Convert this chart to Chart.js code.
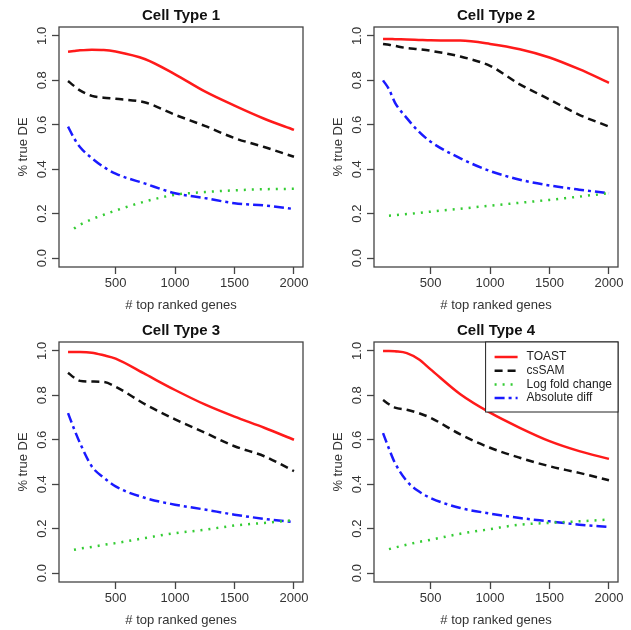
<!DOCTYPE html>
<html lang="en">
<head>
<meta charset="UTF-8">
<title>% true DE by cell type</title>
<script src="https://cdn.jsdelivr.net/npm/chart.js@4.4.1/dist/chart.umd.min.js"></script>
<style>
  body { margin: 0; background: #fff; }
  .panel { position: absolute; width: 315px; height: 315px; }
</style>
</head>
<body>
<div class="panel" style="left:0;top:0"><canvas id="c1" width="315" height="315"></canvas></div>
<div class="panel" style="left:315px;top:0"><canvas id="c2" width="315" height="315"></canvas></div>
<div class="panel" style="left:0;top:315px"><canvas id="c3" width="315" height="315"></canvas></div>
<div class="panel" style="left:315px;top:315px"><canvas id="c4" width="315" height="315"></canvas></div>

<script>
// x positions shared by every curve
var genes = [100, 150, 200, 300, 400, 500, 750, 1000, 1250, 1500, 1750, 2000];
var xTicks = [500, 1000, 1500, 2000];
var yTicks = [0, 0.2, 0.4, 0.6, 0.8, 1.0];
var panelTitles = ['Cell Type 1', 'Cell Type 2', 'Cell Type 3', 'Cell Type 4'];
var methods = ['TOAST', 'csSAM', 'Log fold change', 'Absolute diff'];

// Cell Type 1
var toast1 = [0.929, 0.932, 0.935, 0.938, 0.937, 0.930, 0.895, 0.827, 0.750, 0.686, 0.627, 0.577];
var cssam1 = [0.797, 0.775, 0.755, 0.730, 0.722, 0.717, 0.700, 0.645, 0.595, 0.540, 0.500, 0.456];
var logfc1 = [null, 0.133, 0.150, 0.175, 0.195, 0.214, 0.255, 0.285, 0.297, 0.305, 0.310, 0.312];
var absdiff1 = [0.592, 0.540, 0.500, 0.450, 0.410, 0.380, 0.335, 0.292, 0.270, 0.247, 0.237, 0.221];

// Cell Type 2
var toast2 = [0.986, 0.986, 0.985, 0.984, 0.982, 0.980, 0.979, 0.964, 0.940, 0.903, 0.850, 0.789];
var cssam2 = [0.964, 0.960, 0.955, 0.945, 0.940, 0.933, 0.907, 0.865, 0.782, 0.714, 0.645, 0.592];
var logfc2 = [null, 0.191, 0.193, 0.198, 0.203, 0.209, 0.222, 0.236, 0.249, 0.262, 0.277, 0.292];
var absdiff2 = [0.800, 0.760, 0.700, 0.630, 0.570, 0.524, 0.449, 0.392, 0.353, 0.327, 0.308, 0.292];

// Cell Type 3
var toast3 = [0.995, 0.995, 0.995, 0.992, 0.980, 0.965, 0.895, 0.824, 0.759, 0.704, 0.654, 0.600];
var cssam3 = [0.902, 0.880, 0.865, 0.862, 0.860, 0.839, 0.759, 0.692, 0.632, 0.571, 0.526, 0.459];
var logfc3 = [null, 0.105, 0.110, 0.118, 0.127, 0.135, 0.158, 0.180, 0.195, 0.214, 0.226, 0.238];
var absdiff3 = [0.720, 0.650, 0.586, 0.480, 0.430, 0.390, 0.338, 0.308, 0.286, 0.263, 0.244, 0.229];

// Cell Type 4
var toast4 = [1.000, 1.000, 0.998, 0.990, 0.962, 0.917, 0.805, 0.722, 0.654, 0.594, 0.549, 0.514];
var cssam4 = [0.779, 0.760, 0.745, 0.735, 0.720, 0.699, 0.624, 0.564, 0.519, 0.481, 0.451, 0.418];
var logfc4 = [null, 0.108, 0.115, 0.128, 0.140, 0.150, 0.177, 0.198, 0.218, 0.226, 0.233, 0.241];
var absdiff4 = [0.630, 0.560, 0.496, 0.414, 0.368, 0.338, 0.293, 0.268, 0.248, 0.233, 0.218, 0.208];

var panels = [
    [toast1, cssam1, logfc1, absdiff1],
    [toast2, cssam2, logfc2, absdiff2],
    [toast3, cssam3, logfc3, absdiff3],
    [toast4, cssam4, logfc4, absdiff4]
];

var lineStyles = [
    { color: '#ff1a1a', dash: [] },
    { color: '#111111', dash: [8, 5] },
    { color: '#33cc33', dash: [2, 6] },
    { color: '#1a1aff', dash: [10, 4, 3, 4] }
];

var FONT = '"Liberation Sans", Arial, sans-serif';

function points(values) {
    var out = [];
    values.forEach(function (v, i) {
        if (v !== null) out.push({ x: genes[i], y: v });
    });
    return out;
}

// box, titles, y tick labels, x tick labels and legend in R style
var panelDecor = {
    id: 'panelDecor',
    afterDraw: function (chart) {
        var ctx = chart.ctx, a = chart.chartArea;
        var opts = chart.options.plugins.panelDecor;
        var xs = chart.scales.x, ys = chart.scales.y;
        var cx = (a.left + a.right) / 2;
        ctx.save();

        ctx.strokeStyle = '#444';
        ctx.lineWidth = 1.3;
        ctx.setLineDash([]);
        ctx.strokeRect(a.left, a.top, a.right - a.left, a.bottom - a.top);

        ctx.fillStyle = '#111';
        ctx.font = 'bold 15px ' + FONT;
        ctx.textAlign = 'center';
        ctx.textBaseline = 'alphabetic';
        ctx.fillText(opts.title, cx, 20);

        ctx.fillStyle = '#333';
        ctx.font = '13px ' + FONT;
        ctx.textBaseline = 'middle';
        xs.ticks.forEach(function (t) {
            ctx.fillText(String(t.value), xs.getPixelForValue(t.value), a.bottom + 16);
        });
        ctx.fillText('# top ranked genes', cx, a.bottom + 38);

        ys.ticks.forEach(function (t) {
            ctx.save();
            ctx.translate(a.left - 17, ys.getPixelForValue(t.value));
            ctx.rotate(-Math.PI / 2);
            ctx.fillText(t.value.toFixed(1), 0, 0);
            ctx.restore();
        });
        ctx.save();
        ctx.translate(23, (a.top + a.bottom) / 2);
        ctx.rotate(-Math.PI / 2);
        ctx.fillText('% true DE', 0, 0);
        ctx.restore();

        if (opts.legend) {
            ctx.font = '12px ' + FONT;
            var wMax = 0;
            chart.data.datasets.forEach(function (ds) {
                wMax = Math.max(wMax, ctx.measureText(ds.label).width);
            });
            var w = wMax + 47, h = 70;
            var lx = a.right - w, ly = a.top;
            ctx.fillStyle = '#fff';
            ctx.fillRect(lx, ly, w, h);
            ctx.strokeStyle = '#222';
            ctx.lineWidth = 1;
            ctx.strokeRect(lx, ly, w, h);
            ctx.textAlign = 'left';
            chart.data.datasets.forEach(function (ds, i) {
                var yy = ly + 15 + i * 13.7;
                ctx.strokeStyle = ds.borderColor;
                ctx.lineWidth = ds.borderWidth;
                ctx.setLineDash(ds.borderDash);
                ctx.beginPath();
                ctx.moveTo(lx + 9, yy);
                ctx.lineTo(lx + 32, yy);
                ctx.stroke();
                ctx.fillStyle = '#222';
                ctx.fillText(ds.label, lx + 41, yy);
            });
        }
        ctx.restore();
    }
};

function makePanel(id, idx) {
    var series = panels[idx];
    var datasets = series.map(function (vals, k) {
        return {
            label: methods[k],
            data: points(vals),
            borderColor: lineStyles[k].color,
            borderDash: lineStyles[k].dash,
            borderWidth: 2.5,
            pointRadius: 0,
            fill: false,
            cubicInterpolationMode: 'monotone'
        };
    });
    new Chart(document.getElementById(id), {
        type: 'line',
        data: { datasets: datasets },
        plugins: [panelDecor],
        options: {
            responsive: false,
            animation: false,
            devicePixelRatio: 1,
            layout: { padding: { top: 27, right: 12, left: 0, bottom: 0 } },
            plugins: {
                legend: { display: false },
                tooltip: { enabled: false },
                panelDecor: { title: panelTitles[idx], legend: idx === 3 }
            },
            scales: {
                x: {
                    type: 'linear',
                    min: 24,
                    max: 2076,
                    afterBuildTicks: function (s) { s.ticks = xTicks.map(function (v) { return { value: v }; }); },
                    afterFit: function (s) { s.height = 48; },
                    ticks: { display: false },
                    border: { display: false },
                    grid: { drawOnChartArea: false, drawTicks: true, tickLength: 7, tickColor: '#444', tickWidth: 1.3 }
                },
                y: {
                    type: 'linear',
                    min: -0.04,
                    max: 1.04,
                    afterBuildTicks: function (s) { s.ticks = yTicks.map(function (v) { return { value: v }; }); },
                    afterFit: function (s) { s.width = 59; },
                    ticks: { display: false },
                    border: { display: false },
                    grid: { drawOnChartArea: false, drawTicks: true, tickLength: 7, tickColor: '#444', tickWidth: 1.3 }
                }
            }
        }
    });
}

makePanel('c1', 0);
makePanel('c2', 1);
makePanel('c3', 2);
makePanel('c4', 3);
</script>
</body>
</html>
